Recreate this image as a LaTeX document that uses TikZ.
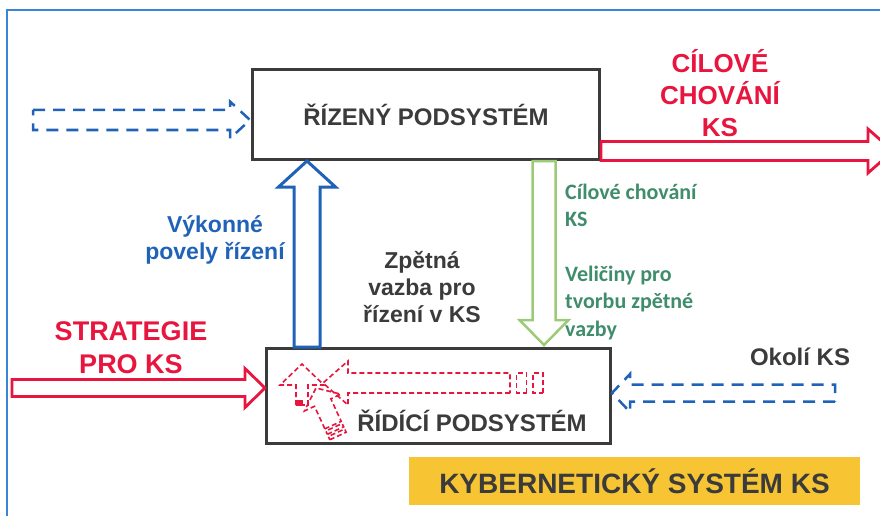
\documentclass[tikz,border=0pt]{standalone}
\usepackage{fontspec}
\setmainfont{Liberation Sans}
\newfontfamily\notefont{Carlito}
\usepackage{tikz}
\usetikzlibrary{calc,positioning}
\definecolor{ksred}{HTML}{E8163F}
\definecolor{ksblue}{HTML}{1F62B8}
\definecolor{frameblue}{HTML}{3A86D6}
\definecolor{ksgreen}{HTML}{9CCB78}
\definecolor{kstext}{HTML}{3B3B3B}
\definecolor{ksnote}{HTML}{3F8D6C}
\definecolor{ksyellow}{HTML}{F7C534}

% block arrow: style, from, to, shaft half width, head half width, head length, striped tail
\newcommand{\blockconn}[7]{%
  \path let \p1=(#2), \p2=(#3) in \pgfextra{%
    \pgfmathsetmacro\blklen{veclen(\x2-\x1,\y2-\y1)}%
    \pgfmathsetmacro\blkang{atan2(\y2-\y1,\x2-\x1)}%
    \global\let\blklen\blklen \global\let\blkang\blkang};
  \begin{scope}[shift={(#2)}, rotate=\blkang]
    \draw[#1] (#7,-#4) -- ({\blklen-#6},-#4) -- ({\blklen-#6},-#5) -- (\blklen,0)
      -- ({\blklen-#6},#5) -- ({\blklen-#6},#4) -- (#7,#4) -- cycle;
    \ifnum#7>0
      \draw[#1] (0,-#4) rectangle ({0.3*#7},#4);
      \draw[#1] ({0.5*#7},-#4) rectangle ({0.8*#7},#4);
    \fi
  \end{scope}}

\begin{document}
\begin{tikzpicture}[x=1pt, y=-1pt,
  sysbox/.style={draw=kstext, line width=3pt, fill=white, minimum width=347pt, text=kstext, font=\bfseries\fontsize{24}{28}\selectfont},
  redblk/.style={draw=ksred, line width=2.8pt, fill=white, line join=miter},
  blueblk/.style={draw=ksblue, line width=3pt, fill=white, line join=miter},
  greenblk/.style={draw=ksgreen, line width=2.5pt, fill=white, line join=miter},
  bluedash/.style={draw=ksblue, line width=2.5pt, dash pattern=on 12pt off 8pt},
  reddash/.style={draw=ksred, line width=1.6pt, dash pattern=on 5pt off 3pt},
  redtxt/.style={text=ksred, align=center, font=\bfseries\fontsize{26}{32}\selectfont},
  graytxt/.style={text=kstext, align=center, font=\bfseries\fontsize{23}{27}\selectfont}
]
  \useasboundingbox (0,0) rectangle (880,516);
  \clip (0,0) rectangle (880,516);
  \draw[frameblue, line width=2pt] (7,10) rectangle (900,540);

  % subsystems
  \node[sysbox, minimum height=90pt] (plant) at (426,114.5) {\raisebox{-4pt}{ŘÍZENÝ PODSYSTÉM}};
  \node[sysbox, minimum width=344pt, minimum height=95pt] (ctrl) at (438.5,396) {};
  \node[text=kstext, font=\bfseries\fontsize{24}{28}\selectfont] (ctrllabel) at (472,421) {ŘÍDÍCÍ PODSYSTÉM};
  \node[fill=ksyellow, minimum width=451pt, minimum height=48pt, text=kstext, font=\bfseries\fontsize{28}{32}\selectfont] (kyb) at (634.5,481) {KYBERNETICKÝ SYSTÉM KS};

  % connection points
  \coordinate (cmdS) at ($(ctrl.north west)+(42,0)$);
  \coordinate (cmdT) at (cmdS |- plant.south);
  \coordinate (fbS) at ($(plant.south west)+(293,0)$);
  \coordinate (fbT) at ($(fbS |- ctrl.north)+(0,-2)$);
  \coordinate (goalS) at ($(plant.east)+(0,36.5)$);
  \coordinate (goalT) at ($(goalS)+(292,0)$);
  \coordinate (stratS) at ($(ctrl.west)+(-253,-8)$);
  \coordinate (stratT) at ($(ctrl.west)+(0,-8)$);
  \coordinate (inS) at ($(plant.west)+(-218,5.5)$);
  \coordinate (inT) at ($(plant.west)+(-1,5.5)$);
  \coordinate (envS) at ($(ctrl.east)+(223,-3)$);
  \coordinate (envT) at ($(ctrl.east)+(0,-3)$);

  % main flows
  \blockconn{blueblk}{cmdS}{cmdT}{13}{28.5}{26}{0}
  \blockconn{greenblk}{fbS}{fbT}{11.5}{24.5}{25}{0}
  \blockconn{redblk}{goalS}{goalT}{9.5}{22}{25}{0}
  \blockconn{redblk}{stratS}{stratT}{8.5}{19.5}{20}{0}
  \blockconn{bluedash}{inS}{inT}{10}{18.5}{20}{0}
  \blockconn{bluedash}{envS}{envT}{8.5}{19}{18}{0}

  % inner arrows of the controller
  \coordinate (innS) at (543,383);
  \coordinate (innT) at (323,383);
  \coordinate (upS) at (302,405);
  \coordinate (upT) at (302,364);
  \coordinate (diaS) at (338,436);
  \coordinate (diaT) at (316,388);
  \blockconn{reddash}{innS}{innT}{10}{22}{25}{33}
  \blockconn{reddash}{upS}{upT}{6}{22}{21}{0}
  \blockconn{reddash}{diaS}{diaT}{9}{20}{16}{12}
  \fill[ksred] (297,400) rectangle (303,406);

  % labels
  \node[redtxt] (goal) at (720,93) {CÍLOVÉ\\CHOVÁNÍ\\KS};
  \node[redtxt, font=\bfseries\fontsize{27}{33}\selectfont] (strat) at (131,348) {STRATEGIE\\PRO KS};
  \node[graytxt, text=ksblue] (cmd) at (215,240) {Výkonné\\povely řízení};
  \node[graytxt] (fb) at (422,287) {Zpětná\\vazba pro\\řízení v KS};
  \node[text=ksnote, align=left, anchor=north west, inner sep=0pt, font=\notefont\bfseries\fontsize{22}{27.3}\selectfont] (note) at (565,184) {Cílové chování\\KS\\\mbox{}\\Veličiny pro\\tvorbu zpětné\\vazby};
  \node[graytxt, font=\bfseries\fontsize{24}{28}\selectfont] (env) at (800,357) {Okolí KS};
\end{tikzpicture}
\end{document}
